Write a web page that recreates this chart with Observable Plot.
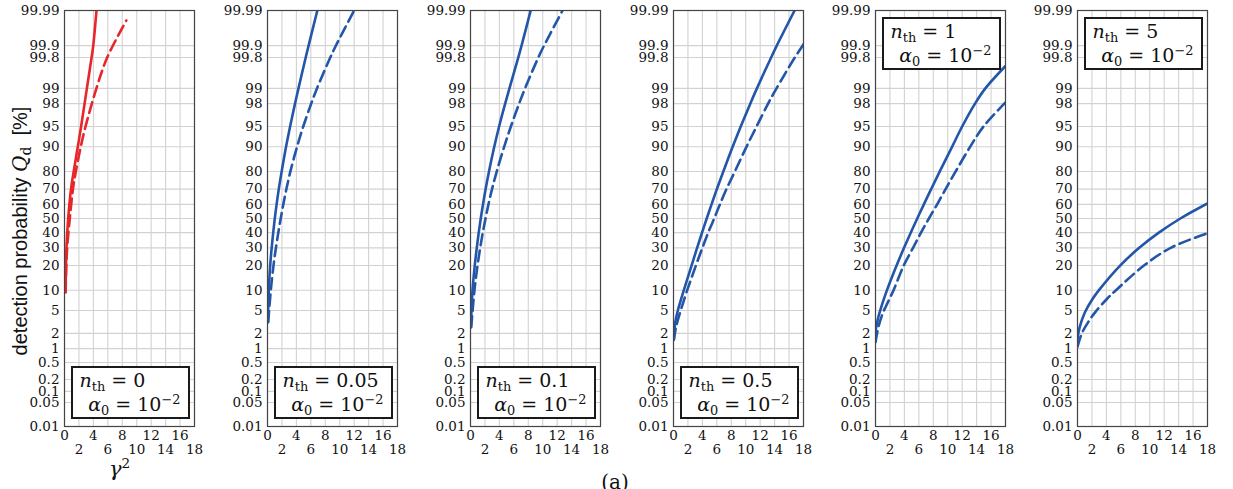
<!DOCTYPE html>
<html><head><meta charset="utf-8">
<script src="https://cdn.jsdelivr.net/npm/d3@7"></script>
<script src="https://cdn.jsdelivr.net/npm/@observablehq/plot@0.6"></script>
<style>
body{margin:0;background:#fff;}
#root{position:relative;width:1233px;height:489px;overflow:hidden;background:#fff;}
.panel{position:absolute;top:0;}
.lg{position:absolute;box-sizing:border-box;width:119px;height:53px;border:2.6px solid #1a1a1a;background:#fff;font-family:"DejaVu Serif",serif;font-size:19px;color:#111;}
.l1{position:absolute;left:7px;top:1px;white-space:nowrap;}
.l2{position:absolute;right:7px;top:25px;white-space:nowrap;}
.lg sub{font-size:0.68em;vertical-align:-0.3em;line-height:0;}
.lg sup{font-size:0.68em;vertical-align:0.55em;line-height:0;}
#ylab{position:absolute;left:20px;top:231px;transform:translate(-50%,-50%) rotate(-90deg) scale(1,1.05);white-space:nowrap;font-family:"Liberation Sans",sans-serif;font-size:20px;color:#111;}
#ylab sub{font-size:0.7em;vertical-align:-0.25em;line-height:0;font-family:"DejaVu Serif",serif;}
#xlab{position:absolute;left:109px;top:457px;font-family:"DejaVu Serif",serif;font-size:21px;line-height:24px;color:#111;}
#xlab sup{font-size:0.65em;vertical-align:0.6em;line-height:0;}
#cap{position:absolute;left:615px;top:472px;transform:translateX(-50%);font-family:"DejaVu Serif",serif;font-size:20px;line-height:20px;color:#111;}
</style></head>
<body><div id="root">
<div id="ylab">detection probability <i style="font-family:'DejaVu Serif',serif">Q</i><sub>d</sub>&nbsp; [%]</div>
<div id="xlab"><i>γ</i><sup>2</sup></div>
<div id="cap">(a)</div>
</div>
<script>
// ---- data ----
const nthLabels = ["0", "0.05", "0.1", "0.5", "1", "5"];
const alphaExp = "−2";
const panelColors = ["#e8262a", "#2356a8", "#2356a8", "#2356a8", "#2356a8", "#2356a8"];
const yTickValues = [0.01, 0.05, 0.1, 0.2, 0.5, 1, 2, 5, 10, 20, 30, 40, 50, 60, 70, 80, 90, 95, 98, 99, 99.8, 99.9, 99.99];
const xGridValues = [0, 2, 4, 6, 8, 10, 12, 14, 16, 18];
const xTicksUpper = [0, 4, 8, 12, 16];
const xTicksLower = [2, 6, 10, 14, 18];

// gamma^2 values and detection probabilities [%], solid curves
const solidG = [
  [0.15, 0.2, 0.27, 0.51, 0.9, 1.27, 1.84, 2.3, 3.1, 3.75, 3.98, 4.43],
  [0.05, 0.18, 0.37, 0.58, 0.79, 1.01, 1.26, 1.56, 1.96, 2.57, 3.13, 3.81, 4.29, 5.29, 5.69, 6.9],
  [0.05, 0.28, 0.59, 0.87, 1.14, 1.42, 1.73, 2.09, 2.56, 3.29, 3.96, 4.8, 5.39, 6.61, 7.07, 8.33],
  [0.05, 0.25, 0.6, 1.43, 2.5, 3.27, 3.95, 4.6, 5.27, 6.0, 6.9, 8.19, 9.31, 10.63, 11.55, 13.52, 14.3, 16.77],
  [0, 0.3, 0.87, 1.59, 2.92, 3.95, 4.88, 5.78, 6.7, 7.7, 8.9, 10.6, 12.0, 13.78, 15.21, 18],
  [0, 0.3, 1.0, 1.97, 2.97, 5.9, 8.55, 11.26, 14.24, 18]
];
const solidQ = [
  [9.4, 20, 30, 50, 70, 80, 90, 95, 99, 99.8, 99.9, 99.99],
  [3.2, 10, 20, 30, 40, 50, 60, 70, 80, 90, 95, 98, 99, 99.8, 99.9, 99.99],
  [2.6, 10, 20, 30, 40, 50, 60, 70, 80, 90, 95, 98, 99, 99.8, 99.9, 99.99],
  [1.57, 3.2, 5, 10, 20, 30, 40, 50, 60, 70, 80, 90, 95, 98, 99, 99.8, 99.9, 99.99],
  [2.2, 3.5, 6, 10, 20, 30, 40, 50, 60, 70, 80, 90, 95, 98, 99, 99.68],
  [1.6, 2.6, 4.6, 7.2, 10, 20, 30, 40, 50, 60.6]
];
// dashed curves
const dashedG = [
  [0.15, 0.25, 0.37, 0.73, 1.17, 1.57, 2.25, 2.91, 4.42, 5.91, 8.56],
  [0.1, 0.46, 0.83, 1.165, 1.495, 1.83, 2.19, 2.61, 3.17, 4.09, 4.95, 6.05, 6.85, 8.69, 9.47, 11.99],
  [0.1, 0.55, 0.97, 1.34, 1.7, 2.08, 2.49, 2.98, 3.64, 4.66, 5.59, 6.73, 7.55, 9.39, 10.18, 12.75],
  [0.05, 0.35, 1.0, 1.9, 3.1, 4.0, 4.8, 5.63, 6.43, 7.33, 8.5, 10.1, 11.5, 13.1, 14.26, 16.8, 18.04],
  [0, 0.4, 1.0, 1.5, 2.5, 3.9, 5.2, 6.3, 7.4, 8.54, 9.7, 11.1, 13.1, 14.95, 18],
  [0, 0.6, 1.48, 2.52, 4.07, 5.33, 9.2, 12.9, 18]
];
const dashedQ = [
  [9.4, 20, 30, 50, 70, 80, 90, 95, 99, 99.8, 99.98],
  [3.2, 10, 20, 30, 40, 50, 60, 70, 80, 90, 95, 98, 99, 99.8, 99.9, 99.99],
  [2.6, 10, 20, 30, 40, 50, 60, 70, 80, 90, 95, 98, 99, 99.8, 99.9, 99.99],
  [1.5, 2.6, 5, 10, 20, 30, 40, 50, 60, 70, 80, 90, 95, 98, 99, 99.8, 99.91],
  [1.35, 2.6, 4.5, 6, 10, 20, 30, 40, 50, 60, 70, 80, 90, 95, 98.1],
  [1.1, 2, 3.2, 4.8, 7.5, 10, 20, 30, 39.6]
];

// ---- layout ----
const frameLefts = [64, 267, 470, 673, 875, 1077];
const legendTop = [366, 366, 366, 366, 17, 17];

// inverse normal CDF (probability-paper scale)
function probit(p) {
  const a=[-3.969683028665376e+01,2.209460984245205e+02,-2.759285104469687e+02,1.383577518672690e+02,-3.066479806614716e+01,2.506628277459239e+00];
  const b=[-5.447609879822406e+01,1.615858368580409e+02,-1.556989798598866e+02,6.680131188771972e+01,-1.328068155288572e+01];
  const c=[-7.784894002430293e-03,-3.223964580411365e-01,-2.400758277161838e+00,-2.549732539343734e+00,4.374664141464968e+00,2.938163982698783e+00];
  const d=[7.784695709041462e-03,3.224671290700398e-01,2.445134137142996e+00,3.754408661907416e+00];
  const pl=0.02425, ph=1-pl;
  if (p<pl){const q=Math.sqrt(-2*Math.log(p));return (((((c[0]*q+c[1])*q+c[2])*q+c[3])*q+c[4])*q+c[5])/((((d[0]*q+d[1])*q+d[2])*q+d[3])*q+1);}
  if (p<=ph){const q=p-0.5,r=q*q;return (((((a[0]*r+a[1])*r+a[2])*r+a[3])*r+a[4])*r+a[5])*q/(((((b[0]*r+b[1])*r+b[2])*r+b[3])*r+b[4])*r+1);}
  const q=Math.sqrt(-2*Math.log(1-p));return -(((((c[0]*q+c[1])*q+c[2])*q+c[3])*q+c[4])*q+c[5])/((((d[0]*q+d[1])*q+d[2])*q+d[3])*q+1);
}
const pz = v => probit(v / 100);
const yTickPos = yTickValues.map(pz);
const labelFor = t => { let best = 0; yTickPos.forEach((v, i) => { if (Math.abs(v - t) < Math.abs(yTickPos[best] - t)) best = i; }); return String(yTickValues[best]); };

const root = document.getElementById("root");
const ML = 62, W = 202;

nthLabels.forEach((nth, i) => {
  const solid = solidG[i].map((g, k) => ({g, q: solidQ[i][k]}));
  const dashed = dashedG[i].map((g, k) => ({g, q: dashedQ[i][k]}));
  const color = panelColors[i];
  const chart = Plot.plot({
    width: W, height: 489,
    marginLeft: ML, marginRight: W - ML - 130, marginTop: 10, marginBottom: 63,
    style: {fontFamily: "'DejaVu Serif', serif", fontSize: "13.5px", background: "transparent", overflow: "visible", color: "#111"},
    x: {domain: [0, 18]},
    y: {domain: [pz(0.01), pz(99.99)]},
    marks: [
      Plot.gridX(xGridValues, {stroke: "#d2d2d2", strokeOpacity: 1, strokeWidth: 1.1}),
      Plot.gridY(yTickPos, {stroke: "#d2d2d2", strokeOpacity: 1, strokeWidth: 1.1}),
      Plot.line(dashed, {x: "g", y: d => pz(d.q), stroke: color, strokeWidth: 2.6, strokeDasharray: "11,5.5", curve: "catmull-rom", clip: true}),
      Plot.line(solid, {x: "g", y: d => pz(d.q), stroke: color, strokeWidth: 2.6, curve: "catmull-rom", clip: true}),
      Plot.frame({stroke: "#444", strokeWidth: 1.2}),
      Plot.axisY(yTickPos, {tickSize: 0, tickPadding: 5, tickFormat: labelFor, label: null, fontSize: 13.5}),
      Plot.axisX(xTicksUpper, {tickSize: 0, tickPadding: 4, label: null, fontSize: 13.5}),
      Plot.axisX(xTicksLower, {tickSize: 0, tickPadding: 18, label: null, fontSize: 13.5})
    ]
  });
  chart.classList.add("panel");
  chart.style.left = (frameLefts[i] - ML) + "px";
  root.appendChild(chart);

  const lg = document.createElement("div");
  lg.className = "lg";
  lg.style.left = (frameLefts[i] + 6.5) + "px";
  lg.style.top = legendTop[i] + "px";
  lg.innerHTML = `<div class="l1"><i>n</i><sub>th</sub> = ${nth}</div><div class="l2"><i>α</i><sub>0</sub> = 10<sup>${alphaExp}</sup></div>`;
  root.appendChild(lg);
});
// keep overlay texts on top
["ylab", "xlab", "cap"].forEach(id => root.appendChild(document.getElementById(id)));
</script>
</body></html>
